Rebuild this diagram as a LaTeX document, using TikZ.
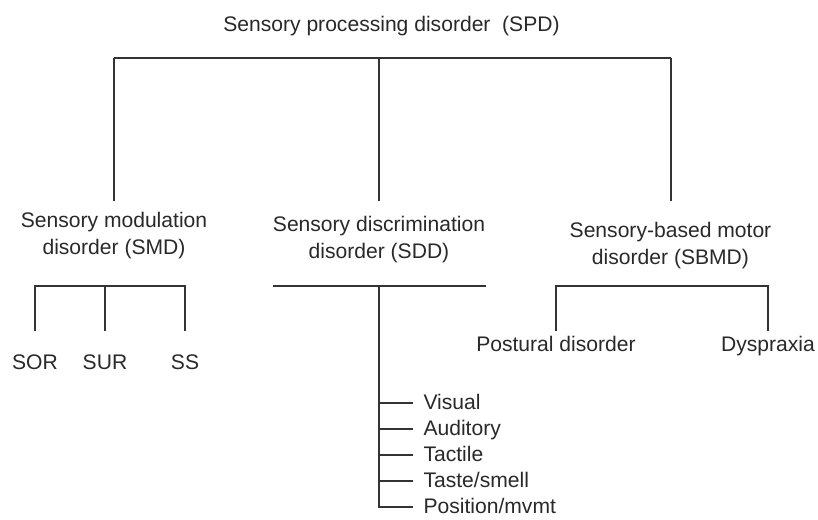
\documentclass[tikz,border=0pt]{standalone}
\usepackage{fontspec}
\setmainfont{Liberation Sans}
\usetikzlibrary{positioning}
\definecolor{inkgray}{rgb}{0.16,0.16,0.16}
\definecolor{linegray}{rgb}{0.2,0.2,0.2}
\tikzset{every node/.style={font=\fontsize{12}{15.4}\selectfont, text=inkgray}}
\tikzset{
	branch/.style={align=center, anchor=north, inner ysep=0.22cm},
	leaf/.style={anchor=north, inner ysep=#1},
	sense/.style={anchor=west, inner xsep=0.2cm, text height=0.72em, text depth=0pt}
}

\begin{document}
\begin{tikzpicture}[line width=0.6pt, color=linegray]
		\useasboundingbox (0,0) rectangle (16.36,10.4);
		% top level
		\node[anchor=base] (spd) at (7.83,9.77) {Sensory processing disorder~ (SPD)};
		\coordinate (spdl) at (2.28,9.24);
		\coordinate (spdm) at (7.58,9.24);
		\coordinate (spdr) at (13.42,9.24);
		\node[branch] (smd) at (2.28,6.38) {Sensory modulation\\disorder (SMD)};
		\node[branch] (sdd) at (7.58,6.31) {Sensory discrimination\\disorder (SDD)};
		\node[branch] (sbmd) at (13.41,6.19) {Sensory-based motor\\disorder (SBMD)};
		\draw (spdl) -- (spdr);
		\draw (spdl) -- (smd);
		\draw (spdm) -- (spdm |- smd.north);
		\draw (spdr) -- (spdr |- smd.north);
		% modulation
		\coordinate (smdj) at (2.10,4.68);
		\foreach \name/\x/\lbl in {sor/0.70/SOR,sur/2.10/SUR,ss/3.70/SS}{
			\node[leaf=0.47cm] (\name) at (\x,3.78) {\lbl};
		}
		\draw (sor) |- (smdj) -| (ss);
		\draw (sur) -- (smdj);
		% discrimination
		\coordinate (sddl) at (5.46,4.68);
		\coordinate (sddj) at (7.58,4.68);
		\coordinate (sddr) at (9.72,4.68);
		\draw (sddl) -- (sddr);
		\foreach \lbl [count=\i] in {Visual,Auditory,Tactile,{Taste/smell},{Position/mvmt}}{
			\node[sense] (sense\i) at (8.26,2.86-0.52*\i) {\lbl};
		}
		\draw (sddj) |- (sense5);
		\foreach \i in {1,...,4}{
			\draw (sddj |- sense\i) -- (sense\i);
		}
		% motor
		\coordinate (sbmdj) at (13.24,4.68);
		\node[leaf=0.09cm] (postural) at (11.12,3.78) {Postural disorder};
		\node[leaf=0.09cm] (dyspraxia) at (15.36,3.78) {Dyspraxia};
		\draw (postural) |- (sbmdj) -| (dyspraxia);
		\draw[line width=1.2pt] (postural |- sbmdj) -- (dyspraxia |- sbmdj);
	\end{tikzpicture}
\end{document}
